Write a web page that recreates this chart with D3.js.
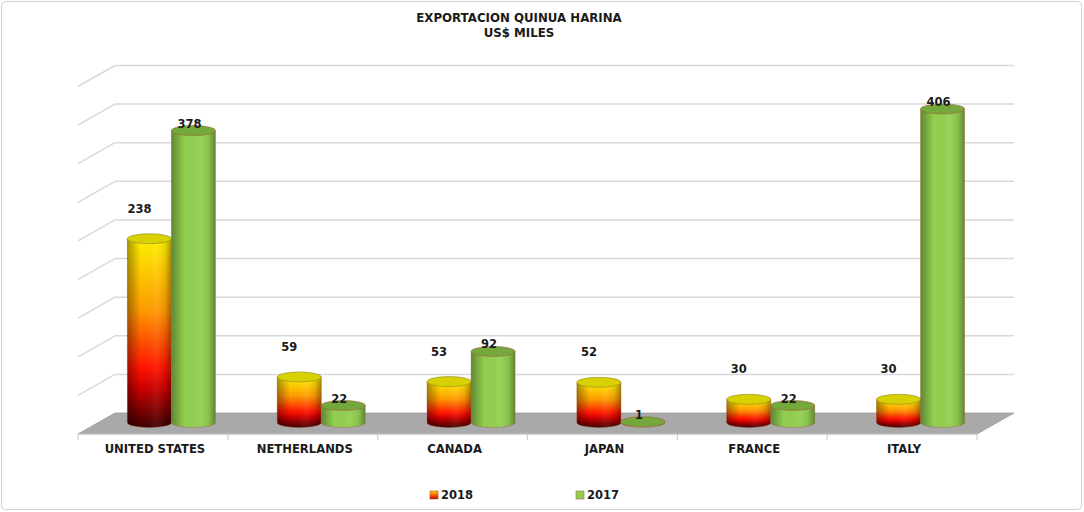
<!DOCTYPE html>
<html><head><meta charset="utf-8">
<script src="https://cdn.jsdelivr.net/npm/d3@7"></script>
<style>body{margin:0;background:#fff}svg{display:block}</style>
</head><body>
<svg id="c" width="1084" height="512"></svg>
<script>
const categories = ["UNITED STATES","NETHERLANDS","CANADA","JAPAN","FRANCE","ITALY"];
const values2018 = [238, 59, 53, 52, 30, 30];
const values2017 = [378, 22, 92, 1, 22, 406];
const seriesNames = ["2018","2017"];
const yTicks = [0,50,100,150,200,250,300,350,400,450];
const titleLines = ["EXPORTACION QUINUA HARINA","US$ MILES"];

const svg = d3.select("#c");
const font = "'DejaVu Sans', sans-serif";

// border
svg.append("rect").attr("x",1.5).attr("y",1.5).attr("width",1080).attr("height",508)
  .attr("rx",4).attr("fill","#fff").attr("stroke","#d0d0d0");

// geometry
const frontY = 434, frontL = 78, frontR = 977;
const ddx = 37, ddy = -21;           // depth vector front -> back
const x = d3.scaleBand().domain(categories).range([frontL, frontR]).paddingInner(0).paddingOuter(0);
const h = d3.scaleLinear().domain([0,450]).range([0,347.5]);
const backY = frontY + ddy;

const defs = svg.append("defs");
const gRed = defs.append("linearGradient").attr("id","gRed").attr("x1",0).attr("y1",1).attr("x2",0).attr("y2",0);
[[0,"#3d0000"],[0.22,"#d40000"],[0.32,"#ff1500"],[0.62,"#ff9a00"],[1,"#fff200"]].forEach(s=>gRed.append("stop").attr("offset",s[0]).attr("stop-color",s[1]));
const gShade = defs.append("linearGradient").attr("id","gShade").attr("x1",0).attr("y1",0).attr("x2",1).attr("y2",0);
[[0,"#000",0.35],[0.3,"#000",0.0],[0.65,"#fff",0.06],[0.85,"#000",0.08],[1,"#000",0.35]].forEach(s=>gShade.append("stop").attr("offset",s[0]).attr("stop-color",s[1]).attr("stop-opacity",s[2]));
const gLeg = defs.append("linearGradient").attr("id","gLeg").attr("x1",0).attr("y1",1).attr("x2",0).attr("y2",0);
[[0,"#c00000"],[0.5,"#ff6000"],[1,"#ffd800"]].forEach(s=>gLeg.append("stop").attr("offset",s[0]).attr("stop-color",s[1]));

// back wall gridlines
svg.append("g").selectAll("line").data(yTicks.slice(1)).join("line")
  .attr("x1", frontL+ddx).attr("x2", frontR+ddx)
  .attr("y1", d=>backY - h(d)).attr("y2", d=>backY - h(d))
  .attr("stroke","#d9d9d9").attr("stroke-width",1.5);
// side wall lines
svg.append("g").selectAll("line").data(yTicks.slice(1)).join("line")
  .attr("x1", frontL+ddx).attr("x2", frontL)
  .attr("y1", d=>backY - h(d)).attr("y2", d=>frontY - h(d))
  .attr("stroke","#d9d9d9").attr("stroke-width",1.5);

// floor
svg.append("path")
  .attr("d", `M${frontL},${frontY} L${frontL+ddx},${backY} L${frontR+ddx},${backY} L${frontR},${frontY} Z`)
  .attr("fill","#a9a9a9").attr("stroke","#9a9a9a").attr("stroke-width",0.8);

// front axis + ticks
svg.append("line").attr("x1",frontL).attr("x2",frontR).attr("y1",frontY).attr("y2",frontY)
  .attr("stroke","#d0d0d0").attr("stroke-width",1.2);
const bounds = categories.map(c=>x(c)).concat([frontR]);
svg.append("g").selectAll("line").data(bounds).join("line")
  .attr("x1",d=>d).attr("x2",d=>d).attr("y1",frontY).attr("y2",frontY+6)
  .attr("stroke","#d0d0d0").attr("stroke-width",1.2);

// category labels
svg.append("g").selectAll("text").data(categories).join("text")
  .attr("x", d=>x(d)+x.bandwidth()/2+2).attr("y", 453)
  .attr("text-anchor","middle").attr("font-family",font).attr("font-weight","bold")
  .attr("font-size",11.6).attr("fill","#1a1a1a").text(d=>d);

// cylinders
const bw = 44, ry = 5, baseY = frontY + ddy/2 - 1;
function cyl(g, cx, val, kind){
  const left = cx - bw/2, right = cx + bw/2, top = baseY - h(val), rx = bw/2;
  const body = `M${left},${top} L${left},${baseY} A${rx},${ry} 0 0 0 ${right},${baseY} L${right},${top} Z`;
  const fill = kind==="2018" ? "url(#gRed)" : "#92d050";
  g.append("path").attr("d",body).attr("fill",fill);
  g.append("path").attr("d",body).attr("fill","url(#gShade)")
    .attr("stroke", kind==="2018" ? "#8a3a1a" : "#a0603a").attr("stroke-width",0.6).attr("stroke-opacity",0.7);
  g.append("ellipse").attr("cx",cx).attr("cy",top).attr("rx",rx).attr("ry",ry)
    .attr("fill", kind==="2018" ? "#d8d000" : "#74a83c")
    .attr("stroke", kind==="2018" ? "#8c8a30" : "#a0603a").attr("stroke-width",0.6);
  return top;
}
const bars = svg.append("g");
const labels = svg.append("g").attr("font-family",font).attr("font-weight","bold")
  .attr("font-size",11.5).attr("fill","#1a1a1a").attr("text-anchor","middle");
categories.forEach((c,i)=>{
  const cMid = x(c) + x.bandwidth()/2 + ddx/2;
  const t18 = cyl(bars, cMid - bw/2, values2018[i], "2018");
  const t17 = cyl(bars, cMid + bw/2, values2017[i], "2017");
  labels.append("text").attr("x", cMid - bw/2 - 10).attr("y", t18 - 26).text(values2018[i]);
  labels.append("text").attr("x", cMid + bw/2 - 4).attr("y", t17 - 3).text(values2017[i]);
});

// title
svg.append("g").selectAll("text").data(titleLines).join("text")
  .attr("x",519).attr("y",(d,i)=>22+i*15).attr("text-anchor","middle")
  .attr("font-family",font).attr("font-weight","bold").attr("font-size",11.8)
  .attr("fill","#1a1a1a").text(d=>d);

// legend
const leg = svg.append("g");
const legX = [430, 576];
seriesNames.forEach((s,i)=>{
  leg.append("rect").attr("x",legX[i]).attr("y",491).attr("width",8).attr("height",8)
    .attr("fill", i===0 ? "url(#gLeg)" : "#92d050")
    .attr("stroke", i===0 ? "#b05020" : "#a07050").attr("stroke-width",0.6);
  leg.append("text").attr("x",legX[i]+11).attr("y",499).attr("font-family",font)
    .attr("font-weight","bold").attr("font-size",11.5).attr("fill","#1a1a1a").text(s);
});
</script>
</body></html>
